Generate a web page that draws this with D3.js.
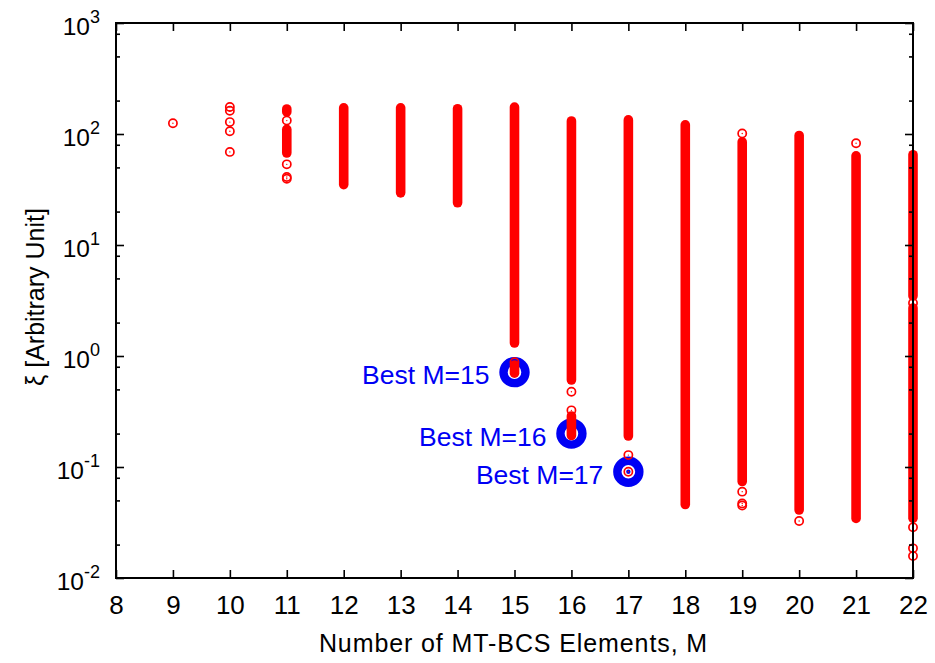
<!DOCTYPE html>
<html>
<head>
<meta charset="utf-8">
<script src="https://cdn.jsdelivr.net/npm/d3@7"></script>
<style>
  html, body { margin: 0; padding: 0; background: #fff; }
  svg { display: block; font-family: "Liberation Sans", Arial, Helvetica, sans-serif; }
</style>
</head>
<body>
<svg id="chart" width="935" height="663"></svg>
<script>
// Number of MT-BCS elements on the horizontal axis
const elementCounts = [8, 9, 10, 11, 12, 13, 14, 15, 16, 17, 18, 19, 20, 21, 22];

// Log axis: labelled decades and minor ticks
const decadeTicks = [0.01, 0.1, 1, 10, 100, 1000];
const decadeExponents = ["-2", "-1", "0", "1", "2", "3"];
const minorTicks = [0.02, 0.05, 0.08, 0.2, 0.5, 0.8, 2, 5, 8, 20, 50, 80, 200, 500, 800];

// Densely populated runs of ξ for each M (upper and lower end of each run)
const runM    = [11,  11,   12,  13,   14,  15,   15,    16,    16,    17,    18,     19,    20,    21,     22,   22];
const runHigh = [168, 110,  172, 172,  169, 175,  0.83,  131,   0.288, 134,   121,    84.7,  97,    63.6,   65,   2.71];
const runLow  = [158, 67.4, 35,  29.5, 24,  1.31, 0.70,  0.608, 0.192, 0.190, 0.0459, 0.074, 0.041, 0.0344, 3.47, 0.0345];

// Isolated configurations
const pointM     = [9,   10,  10,  10,  10,  10, 11,  11,   11, 11,   15,   16,    16,    17,    17,     19,  19,    19,    19,    20,     21,   22,  22,     22,     22];
const pointValue = [125, 175, 162, 128, 106, 69, 132, 53.3, 41, 39.5, 0.88, 0.477, 0.324, 0.128, 0.0907, 101, 0.060, 0.047, 0.045, 0.0326, 82.5, 3.0, 0.0286, 0.0185, 0.0158];

// Best configuration for M = 15, 16, 17
const bestM = [15, 16, 17];
const bestValue = [0.715, 0.20, 0.0907];
const bestLabel = ["Best M=15", "Best M=16", "Best M=17"];

const red = "#ff0000";
const blue = "#0000f4";

const svg = d3.select("#chart");
const plotLeft = 116, plotRight = 913, plotTop = 23, plotBottom = 578;

const x = d3.scaleLinear().domain([8, 22]).range([plotLeft, plotRight]);
const y = d3.scaleLog().domain([0.01, 1000]).range([plotBottom, plotTop]);

// Highlight rings for the best configurations (drawn beneath the data)
const best = svg.append("g");
best.selectAll("circle.ring")
  .data(bestM)
  .join("circle")
  .attr("class", "ring")
  .attr("cx", (m) => x(m))
  .attr("cy", (m, i) => y(bestValue[i]))
  .attr("r", 11)
  .attr("fill", "none")
  .attr("stroke", blue)
  .attr("stroke-width", 8.4);
best.selectAll("circle.dot")
  .data(bestM)
  .join("circle")
  .attr("class", "dot")
  .attr("cx", (m) => x(m))
  .attr("cy", (m, i) => y(bestValue[i]))
  .attr("r", 2.2)
  .attr("fill", blue);

// Dense runs: overlapping markers merge into a solid column
const runLine = d3.line().x((d) => x(d[0])).y((d) => y(d[1]));
svg.append("g")
  .selectAll("path")
  .data(runM.map((m, i) => [[m, runHigh[i]], [m, runLow[i]]]))
  .join("path")
  .attr("d", runLine)
  .attr("fill", "none")
  .attr("stroke", red)
  .attr("stroke-width", 9.6)
  .attr("stroke-linecap", "round");

// Isolated markers: open circle with a centre dot
const pts = svg.append("g");
pts.selectAll("circle.mark")
  .data(pointM)
  .join("circle")
  .attr("class", "mark")
  .attr("cx", (m) => x(m))
  .attr("cy", (m, i) => y(pointValue[i]))
  .attr("r", 4.1)
  .attr("fill", "none")
  .attr("stroke", red)
  .attr("stroke-width", 1.7);
pts.selectAll("circle.centre")
  .data(pointM)
  .join("circle")
  .attr("class", "centre")
  .attr("cx", (m) => x(m))
  .attr("cy", (m, i) => y(pointValue[i]))
  .attr("r", 0.7)
  .attr("fill", red);

// Labels for the best configurations
svg.append("g")
  .selectAll("text")
  .data(bestLabel)
  .join("text")
  .attr("x", (t, i) => x(bestM[i]) - 25)
  .attr("y", (t, i) => y(bestValue[i]) + 12)
  .attr("text-anchor", "end")
  .attr("font-size", 26.5)
  .attr("fill", blue)
  .text((t) => t);

// Ticks on all four sides, pointing inward
function styleTicks(g) {
  g.select(".domain").remove();
  g.selectAll(".tick line").attr("stroke", "#000").attr("stroke-width", 1.6);
}

svg.append("g")
  .attr("transform", `translate(0,${plotBottom})`)
  .call(d3.axisBottom(x).tickValues(elementCounts).tickSize(-8).tickPadding(17.5).tickFormat(d3.format("d")))
  .call(styleTicks)
  .call((g) => g.selectAll("text").attr("font-size", 26).attr("fill", "#000")
    .attr("font-family", '"Liberation Sans", Arial, Helvetica, sans-serif'));

svg.append("g")
  .attr("transform", `translate(0,${plotTop})`)
  .call(d3.axisTop(x).tickValues(elementCounts).tickSize(-8).tickFormat(""))
  .call(styleTicks);

svg.append("g")
  .attr("transform", `translate(${plotLeft},0)`)
  .call(d3.axisLeft(y).tickValues(decadeTicks).tickSize(-8).tickFormat(""))
  .call(styleTicks);
svg.append("g")
  .attr("transform", `translate(${plotLeft},0)`)
  .call(d3.axisLeft(y).tickValues(minorTicks).tickSize(-4).tickFormat(""))
  .call(styleTicks);
svg.append("g")
  .attr("transform", `translate(${plotRight},0)`)
  .call(d3.axisRight(y).tickValues(decadeTicks).tickSize(-8).tickFormat(""))
  .call(styleTicks);
svg.append("g")
  .attr("transform", `translate(${plotRight},0)`)
  .call(d3.axisRight(y).tickValues(minorTicks).tickSize(-4).tickFormat(""))
  .call(styleTicks);

// Plot frame
svg.append("rect")
  .attr("x", plotLeft).attr("y", plotTop)
  .attr("width", plotRight - plotLeft).attr("height", plotBottom - plotTop)
  .attr("fill", "none")
  .attr("stroke", "#000")
  .attr("stroke-width", 2);

// Decade labels as powers of ten
const yLabels = svg.append("g")
  .selectAll("text")
  .data(decadeTicks)
  .join("text")
  .attr("x", 100)
  .attr("y", (v) => y(v) + 12)
  .attr("text-anchor", "end")
  .attr("font-size", 24.5)
  .attr("fill", "#000");
yLabels.append("tspan").text("10");
yLabels.append("tspan")
  .attr("font-size", 18)
  .attr("dy", -12)
  .text((v, i) => decadeExponents[i]);

// Axis titles
svg.append("text")
  .attr("x", (plotLeft + plotRight) / 2 - 1)
  .attr("y", 652)
  .attr("text-anchor", "middle")
  .attr("font-size", 25)
  .attr("letter-spacing", 0.9)
  .attr("fill", "#000")
  .text("Number of MT-BCS Elements, M");

svg.append("text")
  .attr("transform", "translate(44,297) rotate(-90)")
  .attr("text-anchor", "middle")
  .attr("font-size", 25)
  .attr("fill", "#000")
  .text("ξ [Arbitrary Unit]");
</script>
</body>
</html>
